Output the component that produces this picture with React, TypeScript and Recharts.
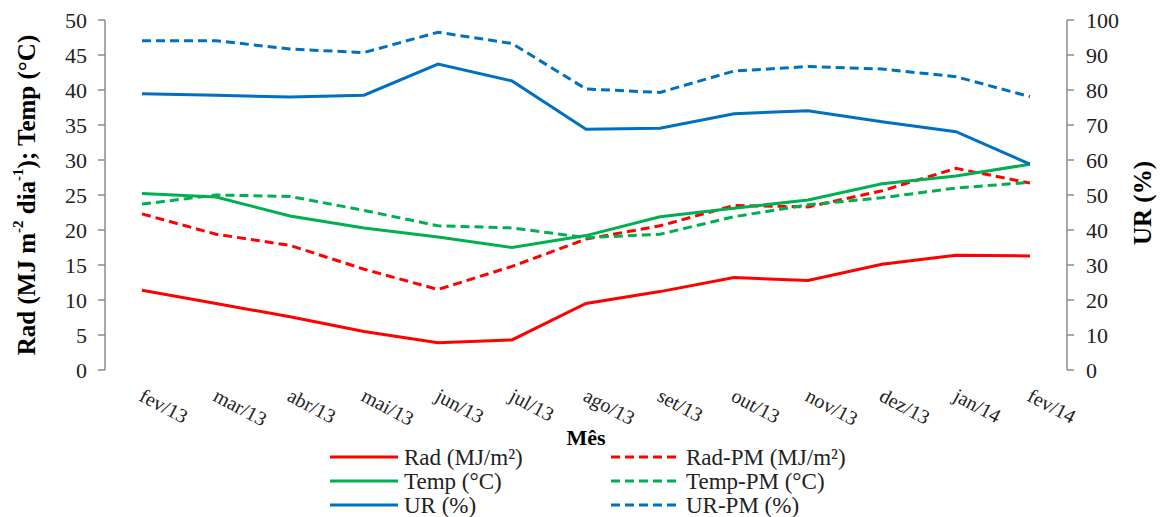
import React from "react"
import { Line, LineChart, XAxis, YAxis } from "recharts"

// monthly means, Feb/2013 – Feb/2014
const months = ["fev/13", "mar/13", "abr/13", "mai/13", "jun/13", "jul/13", "ago/13", "set/13", "out/13", "nov/13", "dez/13", "jan/14", "fev/14"]
const rad = [11.4, 9.5, 7.6, 5.5, 3.9, 4.3, 9.5, 11.2, 13.2, 12.8, 15.1, 16.4, 16.3]
const radPM = [22.3, 19.4, 17.8, 14.4, 11.5, 14.8, 18.7, 20.6, 23.5, 23.3, 25.6, 28.8, 26.7]
const temp = [25.2, 24.7, 22.0, 20.3, 19.0, 17.5, 19.2, 21.9, 23.1, 24.3, 26.6, 27.7, 29.4]
const tempPM = [23.7, 25.0, 24.8, 22.8, 20.6, 20.3, 18.9, 19.4, 21.9, 23.6, 24.6, 26.0, 26.8]
const ur = [78.9, 78.5, 78.0, 78.5, 87.4, 82.6, 68.8, 69.1, 73.2, 74.1, 70.9, 68.1, 58.8]
const urPM = [94.1, 94.1, 91.7, 90.7, 96.5, 93.3, 80.3, 79.3, 85.4, 86.7, 86.0, 83.8, 78.1]

const leftTicks = [0, 5, 10, 15, 20, 25, 30, 35, 40, 45, 50]
const rightTicks = [0, 10, 20, 30, 40, 50, 60, 70, 80, 90, 100]

const RED = "#ff0000"
const GREEN = "#00b050"
const BLUE = "#0070c0"
const AXIS = "#8c8c8c"
const FONT = "'Times New Roman', 'Liberation Serif', serif"
const DASH = "9 5"

const series = [
  { key: "rad", name: "Rad (MJ/m²)", color: RED, dashed: false, axis: "left" },
  { key: "radPM", name: "Rad-PM (MJ/m²)", color: RED, dashed: true, axis: "left" },
  { key: "temp", name: "Temp (°C)", color: GREEN, dashed: false, axis: "left" },
  { key: "tempPM", name: "Temp-PM (°C)", color: GREEN, dashed: true, axis: "left" },
  { key: "ur", name: "UR (%)", color: BLUE, dashed: false, axis: "right" },
  { key: "urPM", name: "UR-PM (%)", color: BLUE, dashed: true, axis: "right" },
]

const data = months.map((m, i) => ({
  idx: i,
  month: m,
  rad: rad[i],
  radPM: radPM[i],
  temp: temp[i],
  tempPM: tempPM[i],
  ur: ur[i],
  urPM: urPM[i],
}))

// band edges for the tick marks, labels sit in the middle of each band
const edges = [...months.map((_, i) => i - 0.5), months.length - 0.5]
const centers = months.map((_, i) => i)
const xDomain = [-0.5, months.length - 0.5]

const MonthTick = (props: any) => {
  const { x, y, payload } = props
  const label = months[payload.value] ?? ""
  const ax = x - 4
  const ay = y + 22
  return (
    <text
      x={ax}
      y={ay}
      transform={`rotate(28, ${ax}, ${ay})`}
      textAnchor="start"
      fontSize={20}
      style={{ fontFamily: FONT }}
      fill="#222"
    >
      {label}
    </text>
  )
}

const EmptyTick = () => <g />

const LeftTitle = (props: any) => {
  const vb = props.viewBox
  const cx = vb.x + 26
  const cy = vb.y + vb.height / 2
  return (
    <text
      x={cx}
      y={cy}
      transform={`rotate(-90, ${cx}, ${cy})`}
      textAnchor="middle"
      dominantBaseline="central"
      fontSize={25}
      fontWeight="bold"
      style={{ fontFamily: FONT }}
      fill="#000"
    >
      Rad (MJ m<tspan dy={-8} fontSize={15}>-2</tspan>
      <tspan dy={8}> dia</tspan>
      <tspan dy={-8} fontSize={15}>-1</tspan>
      <tspan dy={8}>); Temp (°C)</tspan>
    </text>
  )
}

const RightTitle = (props: any) => {
  const vb = props.viewBox
  const cx = vb.x + 75
  const cy = vb.y + vb.height / 2 + 8
  return (
    <text
      x={cx}
      y={cy}
      transform={`rotate(-90, ${cx}, ${cy})`}
      textAnchor="middle"
      dominantBaseline="central"
      fontSize={25}
      fontWeight="bold"
      style={{ fontFamily: FONT }}
      fill="#000"
    >
      UR (%)
    </text>
  )
}

const XTitle = (props: any) => {
  const vb = props.viewBox
  return (
    <text
      x={vb.x + vb.width / 2}
      y={445}
      textAnchor="middle"
      fontSize={22}
      fontWeight="bold"
      style={{ fontFamily: FONT }}
      fill="#000"
    >
      Mês
    </text>
  )
}

function ChartLegend() {
  const cols = [
    { x1: 330, x2: 398, tx: 404 },
    { x1: 611, x2: 678, tx: 686 },
  ]
  const rows = [457, 481, 505]
  return (
    <svg width={1162} height={517} style={{ position: "absolute", left: 0, top: 0, pointerEvents: "none" }}>
      {series.map((s, i) => {
        const c = cols[i % 2]
        const y = rows[Math.floor(i / 2)]
        return (
          <g key={s.key}>
            <line
              x1={c.x1}
              x2={c.x2}
              y1={y}
              y2={y}
              stroke={s.color}
              strokeWidth={3}
              strokeDasharray={s.dashed ? DASH : undefined}
            />
            <text x={c.tx} y={y + 8} fontSize={23} style={{ fontFamily: FONT }} fill="#222">
              {s.name}
            </text>
          </g>
        )
      })}
    </svg>
  )
}

export default function App() {
  return (
    <div
      style={{
        position: "absolute",
        left: 0,
        top: 0,
        width: 1162,
        height: 517,
        background: "#fff",
        fontFamily: FONT,
      }}
    >
      <LineChart width={1162} height={517} data={data} margin={{ top: 20, right: 0, bottom: 0, left: 0 }}>
        <XAxis
          xAxisId="edge"
          dataKey="idx"
          type="number"
          domain={xDomain}
          ticks={edges}
          interval={0}
          height={0}
          tick={EmptyTick}
          tickSize={6}
          axisLine={{ stroke: AXIS, strokeWidth: 1.5 }}
          tickLine={{ stroke: AXIS, strokeWidth: 1.5 }}
        />
        <XAxis
          xAxisId="month"
          dataKey="idx"
          type="number"
          domain={xDomain}
          ticks={centers}
          interval={0}
          height={147}
          axisLine={false}
          tickLine={false}
          tick={<MonthTick />}
          label={<XTitle />}
        />
        <YAxis
          yAxisId="left"
          orientation="left"
          width={105}
          domain={[0, 50]}
          ticks={leftTicks}
          interval={0}
          tickSize={7}
          tickMargin={11}
          axisLine={{ stroke: AXIS, strokeWidth: 1.5 }}
          tickLine={{ stroke: AXIS, strokeWidth: 1.5 }}
          tick={{ fontSize: 22, fill: "#222", style: { fontFamily: FONT } }}
          label={<LeftTitle />}
        />
        <YAxis
          yAxisId="right"
          orientation="right"
          width={95}
          domain={[0, 100]}
          ticks={rightTicks}
          interval={0}
          tickSize={7}
          tickMargin={12}
          axisLine={{ stroke: AXIS, strokeWidth: 1.5 }}
          tickLine={{ stroke: AXIS, strokeWidth: 1.5 }}
          tick={{ fontSize: 22, fill: "#222", textAnchor: "start", style: { fontFamily: FONT } }}
          label={<RightTitle />}
        />
        {series.map((s) => (
          <Line
            key={s.key}
            xAxisId="month"
            yAxisId={s.axis}
            type="linear"
            dataKey={s.key}
            name={s.name}
            stroke={s.color}
            strokeWidth={3}
            strokeDasharray={s.dashed ? DASH : undefined}
            dot={false}
            activeDot={false}
            isAnimationActive={false}
          />
        ))}
      </LineChart>
      <ChartLegend />
    </div>
  )
}
